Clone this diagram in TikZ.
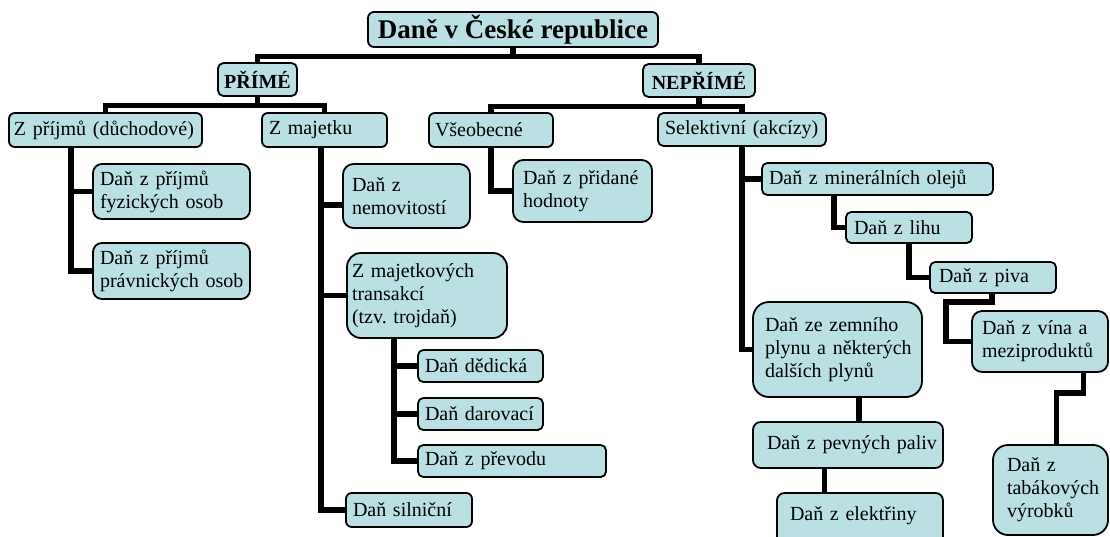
\documentclass[tikz,border=0pt]{standalone}
\usepackage{fontspec}
\setmainfont{Liberation Serif}
\usetikzlibrary{backgrounds}
\definecolor{boxfill}{RGB}{187,224,227}
\newlength{\boxpad}
\newcommand{\indt}{\hspace*{\boxpad}}
\frenchspacing
\tikzset{
  box/.style n args={4}{draw=black, line width=1.8pt, fill=boxfill, rounded corners=#4,
    minimum width=#1, text width=#1, minimum height=#2, inner xsep=0pt, inner ysep=1pt,
    align=left, font=\fontsize{20}{23}\selectfont,
    execute at begin node={\setlength{\boxpad}{#3}}},
  head/.style n args={3}{draw=black, line width=1.8pt, fill=boxfill, rounded corners=#3,
    minimum width=#1, minimum height=#2, inner sep=0pt,
    font=\bfseries\fontsize{20}{22}\selectfont},
  conn/.style={line width=5.5pt, black},
}
\begin{document}
\begin{tikzpicture}[x=1pt, y=-1pt]
\useasboundingbox (0,0) rectangle (1110,537);
\clip (0,0) rectangle (1110,537);

% top levels
\node[head={290pt}{35pt}{6pt}, font=\bfseries\fontsize{27}{30}\selectfont] (title) at (513,29.5) {Daně v České republice};
\node[head={79pt}{33pt}{5.5pt}] (prime) at (257.5,79.5) {PŘÍMÉ};
\node[head={112pt}{33pt}{5.5pt}] (neprime) at (699,80.5) {NEPŘÍMÉ};

% direct taxes
\node[box={193pt}{34pt}{5pt}{5.7pt}] (zp) at (105.5,130) {\indt Z příjmů (důchodové)};
\node[box={157pt}{55pt}{7pt}{9pt}] (dfo) at (171.5,191.5) {\indt Daň z příjmů\\\indt fyzických osob};
\node[box={157pt}{56pt}{7pt}{9pt}] (dpo) at (171.5,271) {\indt Daň z příjmů\\\indt právnických osob};
\node[box={125pt}{34pt}{7pt}{5.7pt}] (zm) at (324.5,130) {\indt Z majetku};
\node[box={127pt}{64pt}{9pt}{10.5pt}] (nem) at (406.5,196) {\indt Daň z\\\indt nemovitostí};
\node[box={160pt}{85pt}{5pt}{14pt}] (troj) at (427,295.5) {\indt Z majetkových\\\indt transakcí\\\indt (tzv. trojdaň)};
\node[box={125pt}{32pt}{7pt}{5.3pt}] (ded) at (480.5,366) {\indt Daň dědická};
\node[box={125pt}{32pt}{7pt}{5.3pt}] (dar) at (480.5,414) {\indt Daň darovací};
\node[box={188pt}{32pt}{7pt}{5.3pt}] (pre) at (512,461) {\indt Daň z převodu};
\node[box={126pt}{34pt}{7pt}{5.7pt}] (sil) at (409,510) {\indt Daň silniční};

% indirect taxes
\node[box={124pt}{34pt}{6pt}{5.7pt}] (vse) at (491,130) {\indt Všeobecné};
\node[box={139pt}{62pt}{10pt}{10.3pt}] (dph) at (582.5,191) {\indt Daň z přidané\\\indt hodnoty};
\node[box={168pt}{33pt}{7pt}{5.5pt}] (sel) at (742,129.5) {\indt Selektivní (akcízy)};
\node[box={231pt}{32pt}{7pt}{5.3pt}] (ole) at (877.5,179) {\indt Daň z minerálních olejů};
\node[box={126pt}{31pt}{8pt}{5.2pt}] (lih) at (909,227.5) {\indt Daň z lihu};
\node[box={126pt}{31pt}{9pt}{5.2pt}] (piv) at (993,277.5) {\indt Daň z piva};
\node[box={136pt}{61pt}{10pt}{10.2pt}] (vin) at (1040,341.5) {\indt Daň z vína a\\\indt meziproduktů};
\node[box={115pt}{90pt}{14pt}{15pt}] (tab) at (1050.5,490) {\indt Daň z\\\indt tabákových\\\indt výrobků};
\node[box={169pt}{95pt}{12pt}{16pt}] (zem) at (837.5,349.5) {\indt Daň ze zemního\\\indt plynu a některých\\\indt dalších plynů};
\node[box={190pt}{46pt}{14pt}{7.7pt}] (pev) at (848,445) {\indt Daň z pevných paliv};
\node[box={166pt}{60pt}{13pt}{7.5pt}, inner ysep=0pt, text height=27pt, text depth=33pt] (ele) at (860,523) {\indt Daň z elektřiny};

\begin{scope}[on background layer]
\draw[conn] (title.south) -- ++(0,8.5) -| (prime.north);
\draw[conn] (title.south) -- ++(0,8.5) -| (neprime.north);
\draw[conn] (prime.south) -- ++(0,8.5) -| (zp.north);
\draw[conn] (prime.south) -- ++(0,8.5) -| (zm.north);
\draw[conn] (neprime.south) -- ++(0,8.5) -| (vse.north);
\draw[conn] (neprime.south) -- ++(0,8.5) -| (sel.north);

\draw[conn] ([xshift=63pt]zp.south west) |- (dfo.west);
\draw[conn] ([xshift=63pt]zp.south west) |- (dpo.west);

\draw[conn] ([xshift=60pt]zm.south west) |- ([yshift=-9pt]nem.west);
\draw[conn] ([xshift=60pt]zm.south west) |- (troj.west);
\draw[conn] ([xshift=60pt]zm.south west) |- (sil.west);

\draw[conn] ([xshift=48pt]troj.south west) |- (ded.west);
\draw[conn] ([xshift=48pt]troj.south west) |- (dar.west);
\draw[conn] ([xshift=48pt]troj.south west) |- (pre.west);

\draw[conn] (vse.south) |- (dph.west);
\draw[conn] (sel.south) |- (ole.west);
\draw[conn] (sel.south) |- (zem.west);

\draw[conn] ([xshift=73pt]ole.south west) |- (lih.west);
\draw[conn] ([xshift=64pt]lih.south west) |- (piv.west);
\draw[conn] ([xshift=63pt]piv.south west) |- ++(-46,8) |- (vin.west);
\draw[conn] ([xshift=112.5pt]vin.south west) -- ++(0,20) -| ([xshift=6pt]tab.north);

\draw[conn] ([xshift=107pt]zem.south west) -- ([xshift=107pt]zem.south west |- pev.north);
\draw[conn] ([xshift=72.5pt]pev.south west) -- ([xshift=72.5pt]pev.south west |- ele.north);
\end{scope}
\end{tikzpicture}
\end{document}
